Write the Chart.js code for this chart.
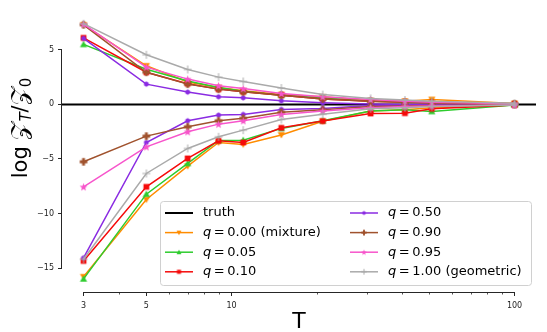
<!DOCTYPE html>
<html><head><meta charset="utf-8">
<script src="https://cdn.jsdelivr.net/npm/chart.js@4"></script>
<style>html,body{margin:0;padding:0;background:#fff;}canvas{display:block}</style>
</head><body>
<canvas id="c" width="547" height="332"></canvas>
<script>
// ---- data ----
const T = [3, 5, 7, 9, 11, 15, 21, 31, 41, 51, 100];
const xLimits = [2.518, 119.1];
const yLimits = [-17.2, 8.6];
const xTicks = [3, 4, 5, 6, 7, 8, 9, 10, 20, 30, 40, 50, 60, 70, 80, 90, 100];
const xLabeled = [3, 5, 10, 100];
const yTicks = [-15, -10, -5, 0, 5];
const truthY = [0, 0];

const q000Upper = [7.30, 3.54, 2.05, 1.55, 1.25, 0.90, 0.70, 0.35, 0.30, 0.45, 0.08];
const q000Lower = [-15.80, -8.72, -5.66, -3.49, -3.67, -2.80, -1.55, -0.60, -0.50, -0.30, -0.05];
const q005Upper = [5.50, 3.22, 2.14, 1.55, 1.20, 0.85, 0.60, 0.30, 0.25, 0.20, 0.05];
const q005Lower = [-16.00, -8.23, -5.41, -3.30, -3.28, -2.20, -1.50, -0.60, -0.50, -0.65, -0.05];
const q010Upper = [6.10, 2.95, 1.90, 1.40, 1.15, 0.85, 0.50, 0.30, 0.20, 0.15, 0.05];
const q010Lower = [-14.35, -7.56, -4.95, -3.34, -3.49, -2.15, -1.53, -0.83, -0.80, -0.40, -0.05];
const q050Upper = [6.05, 1.86, 1.13, 0.70, 0.60, 0.33, 0.15, 0.03, 0.00, 0.00, 0.00];
const q050Lower = [-14.07, -3.49, -1.50, -0.98, -0.92, -0.46, -0.37, -0.10, -0.05, -0.05, 0.00];
const q090Upper = [7.30, 2.95, 1.86, 1.40, 1.15, 0.85, 0.50, 0.30, 0.20, 0.15, 0.05];
const q090Lower = [-5.26, -2.91, -2.05, -1.50, -1.28, -0.73, -0.50, -0.20, -0.15, -0.10, -0.02];
const q095Upper = [7.35, 3.42, 2.32, 1.71, 1.45, 1.00, 0.70, 0.46, 0.30, 0.20, 0.05];
const q095Lower = [-7.56, -3.89, -2.51, -1.81, -1.50, -0.92, -0.60, -0.30, -0.20, -0.15, -0.05];
const q100Upper = [7.40, 4.55, 3.20, 2.50, 2.10, 1.50, 0.90, 0.55, 0.40, 0.30, 0.10];
const q100Lower = [-14.20, -6.33, -4.04, -2.97, -2.36, -1.38, -0.90, -0.40, -0.30, -0.20, -0.05];

const seriesLabels = ['q = 0.00 (mixture)', 'q = 0.05', 'q = 0.10', 'q = 0.50', 'q = 0.90', 'q = 0.95', 'q = 1.00 (geometric)'];
const seriesUpper = [q000Upper, q005Upper, q010Upper, q050Upper, q090Upper, q095Upper, q100Upper];
const seriesLower = [q000Lower, q005Lower, q010Lower, q050Lower, q090Lower, q095Lower, q100Lower];

// ---- styles ----
const colors = ['#ff8c00', '#2ecc2e', '#f50a0a', '#8a2be2', '#a0522d', '#f755cb', '#aaaaaa'];
const markers = ['tridown', 'triup', 'square', 'hexagon', 'plus', 'star', 'cross'];

function makeMarker(kind, color, s) {
  const pad = 2;
  const c = document.createElement('canvas');
  const size = Math.ceil(s * 2 + pad * 2);
  c.width = size; c.height = size;
  const g = c.getContext('2d');
  const cx = size / 2, cy = size / 2;
  g.fillStyle = color; g.strokeStyle = color; g.lineWidth = 1;
  g.beginPath();
  if (kind === 'tridown') {
    g.moveTo(cx - s, cy - s * 0.75); g.lineTo(cx + s, cy - s * 0.75); g.lineTo(cx, cy + s); g.closePath(); g.fill();
  } else if (kind === 'triup') {
    g.moveTo(cx - s, cy + s * 0.75); g.lineTo(cx + s, cy + s * 0.75); g.lineTo(cx, cy - s); g.closePath(); g.fill();
  } else if (kind === 'square') {
    g.rect(cx - s * 0.85, cy - s * 0.85, s * 1.7, s * 1.7); g.fill();
  } else if (kind === 'hexagon') {
    for (let i = 0; i < 6; i++) {
      const a = Math.PI / 2 + i * Math.PI / 3;
      const px = cx + s * 0.9 * Math.cos(a), py = cy - s * 0.9 * Math.sin(a);
      if (i === 0) g.moveTo(px, py); else g.lineTo(px, py);
    }
    g.closePath(); g.fill();
  } else if (kind === 'plus') {
    const w = s * 0.38;
    g.moveTo(cx - w, cy - s); g.lineTo(cx + w, cy - s); g.lineTo(cx + w, cy - w); g.lineTo(cx + s, cy - w);
    g.lineTo(cx + s, cy + w); g.lineTo(cx + w, cy + w); g.lineTo(cx + w, cy + s); g.lineTo(cx - w, cy + s);
    g.lineTo(cx - w, cy + w); g.lineTo(cx - s, cy + w); g.lineTo(cx - s, cy - w); g.lineTo(cx - w, cy - w);
    g.closePath(); g.fill();
  } else if (kind === 'star') {
    for (let i = 0; i < 10; i++) {
      const r = i % 2 === 0 ? s : s * 0.42;
      const a = Math.PI / 2 + i * Math.PI / 5;
      const px = cx + r * Math.cos(a), py = cy - r * Math.sin(a) + s * 0.1;
      if (i === 0) g.moveTo(px, py); else g.lineTo(px, py);
    }
    g.closePath(); g.fill();
  } else if (kind === 'cross') {
    g.moveTo(cx - s, cy); g.lineTo(cx + s, cy); g.moveTo(cx, cy - s); g.lineTo(cx, cy + s); g.stroke();
  }
  return c;
}

const markerSize = [3.6, 3.6, 3.4, 3.0, 3.8, 4.2, 4.0];
const plotMarkers = markers.map((m, i) => makeMarker(m, colors[i], markerSize[i]));
const legendMarkers = markers.map((m, i) => makeMarker(m, colors[i], markerSize[i] * 0.7));

const datasets = [{
  label: 'truth',
  data: xLimits.map((x, i) => ({ x: x, y: truthY[i] })),
  borderColor: '#000', borderWidth: 2, pointRadius: 0, order: 100
}];
let ord = 99;
seriesLabels.forEach((lab, i) => {
  [seriesUpper[i], seriesLower[i]].forEach((arr) => {
    datasets.push({
      label: lab,
      data: T.map((t, k) => ({ x: t, y: arr[k] })),
      borderColor: colors[i], backgroundColor: colors[i],
      borderWidth: 1.5, pointStyle: plotMarkers[i], pointRadius: 4,
      order: ord--
    });
  });
});

const fmtY = v => (v < 0 ? '\u2212' + Math.abs(v) : String(v));

const decor = {
  id: 'decor',
  afterDraw(chart) {
    const g = chart.ctx, ca = chart.chartArea;
    const xs = chart.scales.x, ys = chart.scales.y;
    g.save();
    // spines (trimmed)
    g.strokeStyle = '#262626'; g.lineWidth = 1;
    g.beginPath();
    g.moveTo(ca.left - 0.5, ys.getPixelForValue(yTicks[yTicks.length - 1]));
    g.lineTo(ca.left - 0.5, ys.getPixelForValue(yTicks[0]));
    g.moveTo(xs.getPixelForValue(xTicks[0]), ca.bottom + 0.5);
    g.lineTo(xs.getPixelForValue(xTicks[xTicks.length - 1]), ca.bottom + 0.5);
    g.stroke();
    // minor ticks
    g.lineWidth = 0.8;
    g.beginPath();
    xTicks.forEach(v => {
      if (xLabeled.includes(v)) return;
      const px = Math.round(xs.getPixelForValue(v)) + 0.5;
      g.moveTo(px, ca.bottom); g.lineTo(px, ca.bottom + 2.5);
    });
    g.stroke();
    // x title
    g.fillStyle = '#000';
    g.font = '22px "DejaVu Sans"';
    g.textAlign = 'center'; g.textBaseline = 'alphabetic';
    g.fillText('T', (ca.left + ca.right) / 2, 328);
    // y title
    g.translate(27, 128);
    g.rotate(-Math.PI / 2);
    const parts = [
      { t: 'log', f: '21px "DejaVu Sans"', dy: 0 },
      { t: ' ', f: '21px "DejaVu Sans"', dy: 0 },
      { t: '\uD835\uDCB5', f: '24px "DejaVu Sans", "DejaVu Serif", serif', dy: 0 },
      { t: 'T', f: 'italic 15px "DejaVu Sans"', dy: 4 },
      { t: '/', f: '21px "DejaVu Sans"', dy: 0 },
      { t: '\uD835\uDCB5', f: '24px "DejaVu Sans", "DejaVu Serif", serif', dy: 0 },
      { t: '0', f: '15px "DejaVu Sans"', dy: 4 }
    ];
    let total = 0;
    parts.forEach(p => { g.font = p.f; p.w = g.measureText(p.t).width; total += p.w; });
    let x0 = -total / 2;
    g.textAlign = 'left';
    parts.forEach(p => { g.font = p.f; g.fillText(p.t, x0, p.dy); x0 += p.w; });
    g.restore();

    // legend
    g.save();
    const bx = 160.5, by = 201.5, bw = 371, bh = 84, r = 3;
    g.beginPath();
    g.moveTo(bx + r, by); g.lineTo(bx + bw - r, by); g.quadraticCurveTo(bx + bw, by, bx + bw, by + r);
    g.lineTo(bx + bw, by + bh - r); g.quadraticCurveTo(bx + bw, by + bh, bx + bw - r, by + bh);
    g.lineTo(bx + r, by + bh); g.quadraticCurveTo(bx, by + bh, bx, by + bh - r);
    g.lineTo(bx, by + r); g.quadraticCurveTo(bx, by, bx + r, by);
    g.closePath();
    g.fillStyle = 'rgba(255,255,255,0.8)'; g.fill();
    g.strokeStyle = '#d0d0d0'; g.lineWidth = 1; g.stroke();
    const entries = [{ label: 'truth', color: '#000', lw: 2, marker: null }];
    seriesLabels.forEach((l, i) => entries.push({ label: l, color: colors[i], lw: 1.5, marker: legendMarkers[i] }));
    entries.forEach((e, i) => {
      const col = Math.floor(i / 4), row = i % 4;
      const lx = col === 0 ? 165 : 350;
      const ly = 213 + row * 19.6;
      g.strokeStyle = e.color; g.lineWidth = e.lw;
      g.beginPath(); g.moveTo(lx, ly); g.lineTo(lx + 28, ly); g.stroke();
      if (e.marker) g.drawImage(e.marker, lx + 14 - e.marker.width / 2, ly - e.marker.height / 2);
      g.fillStyle = '#000'; g.textBaseline = 'middle'; g.textAlign = 'left';
      let tx = lx + 38;
      if (e.label.startsWith('q')) {
        g.font = 'italic 13px "DejaVu Sans"';
        g.fillText('q', tx, ly);
        tx += g.measureText('q').width;
        g.font = '13px "DejaVu Sans"';
        g.fillText(e.label.slice(1).replace(' = ', '\u2009=\u2009'), tx, ly);
      } else {
        g.font = '13px "DejaVu Sans"';
        g.fillText(e.label, tx, ly);
      }
    });
    g.restore();
  }
};

new Chart(document.getElementById('c'), {
  type: 'line',
  data: { datasets },
  options: {
    responsive: false, animation: false, devicePixelRatio: 1,
    layout: { padding: { left: 0, right: 11, top: 10.6, bottom: 0 } },
    plugins: { legend: { display: false }, tooltip: { enabled: false } },
    elements: { line: { tension: 0 } },
    scales: {
      x: {
        type: 'logarithmic', min: xLimits[0], max: xLimits[1],
        afterBuildTicks: s => { s.ticks = xTicks.map(v => ({ value: v, major: xLabeled.includes(v) })); },
        afterFit: s => { s.height = 40; },
        border: { display: false },
        grid: {
          drawOnChartArea: false, drawTicks: true, tickLength: 4,
          tickColor: ctx => (ctx.tick && xLabeled.includes(ctx.tick.value)) ? '#262626' : 'rgba(0,0,0,0)',
          tickWidth: 1
        },
        ticks: {
          autoSkip: false, maxRotation: 0, padding: 5, color: '#222',
          font: { family: 'DejaVu Sans', size: 8 },
          callback: v => xLabeled.includes(v) ? String(v) : ''
        }
      },
      y: {
        type: 'linear', min: yLimits[0], max: yLimits[1],
        afterBuildTicks: s => { s.ticks = yTicks.map(v => ({ value: v })); },
        afterFit: s => { s.width = 62; },
        border: { display: false },
        grid: { drawOnChartArea: false, drawTicks: true, tickLength: 4, tickColor: '#262626', tickWidth: 1 },
        ticks: {
          padding: 4, color: '#222',
          font: { family: 'DejaVu Sans', size: 8 },
          callback: v => fmtY(v)
        }
      }
    }
  },
  plugins: [decor]
});
</script>
</body></html>
